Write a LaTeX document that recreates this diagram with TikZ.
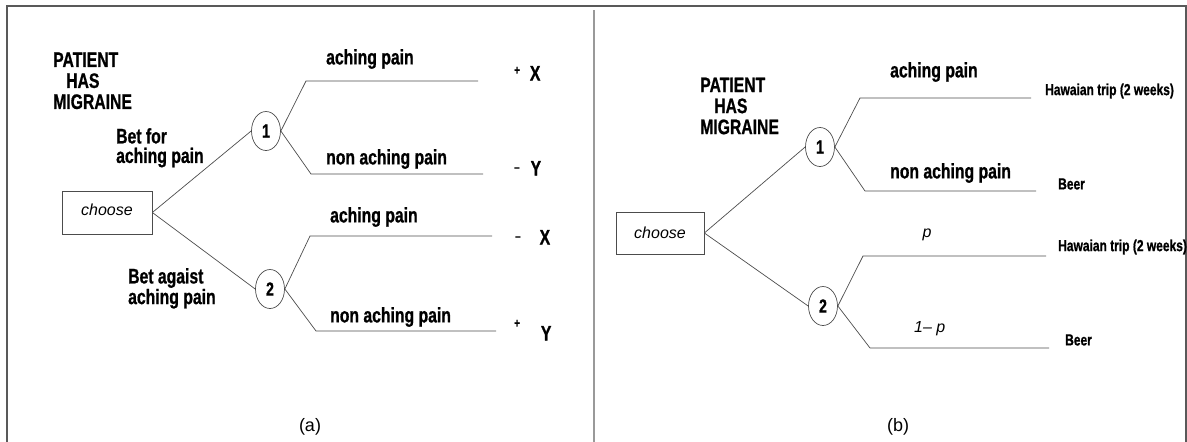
\documentclass[tikz,border=0pt]{standalone}
\usepackage{fontspec}
\setmainfont{Liberation Sans}
\newfontfamily\narrow{Liberation Sans}[FakeStretch=0.75,FakeBold=0.8]
\usetikzlibrary{shapes.geometric,positioning}
\newcommand{\pmsign}[1]{{\fontsize{13}{13}\selectfont #1}}

\begin{document}
\begin{tikzpicture}[x=1pt,y=-1pt,
    lbl/.style={font=\narrow\bfseries\fontsize{21}{19.5}\selectfont, inner sep=0pt, anchor=west, align=left},
    title/.style={lbl, font=\narrow\bfseries\fontsize{21}{21}\selectfont, anchor=north west},
    pay/.style={font=\narrow\bfseries\fontsize{16}{18}\selectfont, inner sep=0pt, anchor=west},
    prob/.style={font=\itshape\fontsize{16}{18}\selectfont, inner sep=0pt},
    chance/.style={ellipse, draw=black!70, line width=0.7pt, minimum width=29pt, minimum height=39pt, inner sep=0pt, font=\narrow\bfseries\fontsize{19}{19}\selectfont},
    decision/.style={draw=black!70, line width=0.7pt, minimum width=90pt, minimum height=43pt, inner sep=0pt, font=\itshape\fontsize{16}{18}\selectfont},
    branch/.style={draw=black!70, line width=0.7pt},
    panel/.style={font=\fontsize{18}{20}\selectfont, inner sep=0pt}]
  \useasboundingbox (0,0) rectangle (1187,442);

  % frame
  \draw[black!65, line width=1.5pt] (7,442) -- (7,6) -- (1186,6) -- (1186,442);
  \draw[black!40, line width=2pt] (594,10) -- (594,442);

  % (a) bet
  \node[title] (ta) at (53,52.3) {PATIENT\\\hspace*{13pt}HAS\\MIGRAINE};
  \node[decision] (da) at (107,212.5) {\raisebox{5pt}{choose}\hspace{6pt}};
  \node[chance] (a1) at (266,131) {1};
  \node[chance] (a2) at (270,289) {2};
  \node[lbl, anchor=north west] (bfor) at (116,128) {Bet for\\aching pain};
  \node[lbl, anchor=north west] (bagainst) at (128,268) {Bet agaist\\aching pain};

  \draw[branch] (da.east) -- (a1.west);
  \draw[branch] (da.east) -- (a2.west);

  \coordinate (a1u) at (306,81);  \coordinate (a1ue) at (478,81);
  \coordinate (a1d) at (311,174); \coordinate (a1de) at (483,174);
  \coordinate (a2u) at (310,236); \coordinate (a2ue) at (492,236);
  \coordinate (a2d) at (316,331); \coordinate (a2de) at (496,331);
  \draw[branch] (a1.east) -- (a1u) -- (a1ue);
  \draw[branch] (a1.east) -- (a1d) -- (a1de);
  \draw[branch] (a2.east) -- (a2u) -- (a2ue);
  \draw[branch] (a2.east) -- (a2d) -- (a2de);

  \node[lbl] (la1u) at (326,59) {aching pain};
  \node[lbl] (la1d) at (326,159) {non aching pain};
  \node[lbl] (la2u) at (330,217) {aching pain};
  \node[lbl] (la2d) at (330,317) {non aching pain};

  \node[lbl, anchor=base west] (oa1) at (514,80.5) {\raisebox{6pt}{\pmsign{+}}\hspace{10pt}X};
  \node[lbl, anchor=base west] (oa2) at (514,175.5) {\raisebox{4pt}{\pmsign{–}}\hspace{11pt}Y};
  \node[lbl, anchor=base west] (oa3) at (515,244.5) {\raisebox{4pt}{\pmsign{–}}\hspace{19pt}X};
  \node[lbl, anchor=base west] (oa4) at (514,340.5) {\raisebox{13pt}{\pmsign{+}}\hspace{21pt}Y};

  \node[panel] (capa) at (310,427) {(a)};

  % (b) lottery
  \node[title] (tb) at (700,77.5) {PATIENT\\\hspace*{14pt}HAS\\MIGRAINE};
  \node[decision, minimum width=88pt, minimum height=42pt] (db) at (660,233) {choose\hspace{4pt}};
  \node[chance] (b1) at (820,147) {1};
  \node[chance] (b2) at (823,306) {2};

  \draw[branch] (db.east) -- (b1.west);
  \draw[branch] (db.east) -- (b2.west);

  \coordinate (b1u) at (860,98);  \coordinate (b1ue) at (1031,98);
  \coordinate (b1d) at (865,191); \coordinate (b1de) at (1036,191);
  \coordinate (b2u) at (863,256); \coordinate (b2ue) at (1046,256);
  \coordinate (b2d) at (870,348); \coordinate (b2de) at (1049,348);
  \draw[branch] (b1.east) -- (b1u) -- (b1ue);
  \draw[branch] (b1.east) -- (b1d) -- (b1de);
  \draw[branch] (b2.east) -- (b2u) -- (b2ue);
  \draw[branch] (b2.east) -- (b2d) -- (b2de);

  \node[lbl] (lb1u) at (890,72) {aching pain};
  \node[lbl] (lb1d) at (890,173) {non aching pain};
  \node[prob] (lb2u) at (927,235) {p};
  \node[prob, anchor=west] (lb2d) at (914,329) {1– p};

  \node[pay] (ob1) at (1045,91) {Hawaian trip (2 weeks)};
  \node[pay] (ob2) at (1058,184) {Beer};
  \node[pay] (ob3) at (1058,247) {Hawaian trip (2 weeks)};
  \node[pay] (ob4) at (1065,340) {Beer};

  \node[panel] (capb) at (898,427) {(b)};
\end{tikzpicture}
\end{document}
